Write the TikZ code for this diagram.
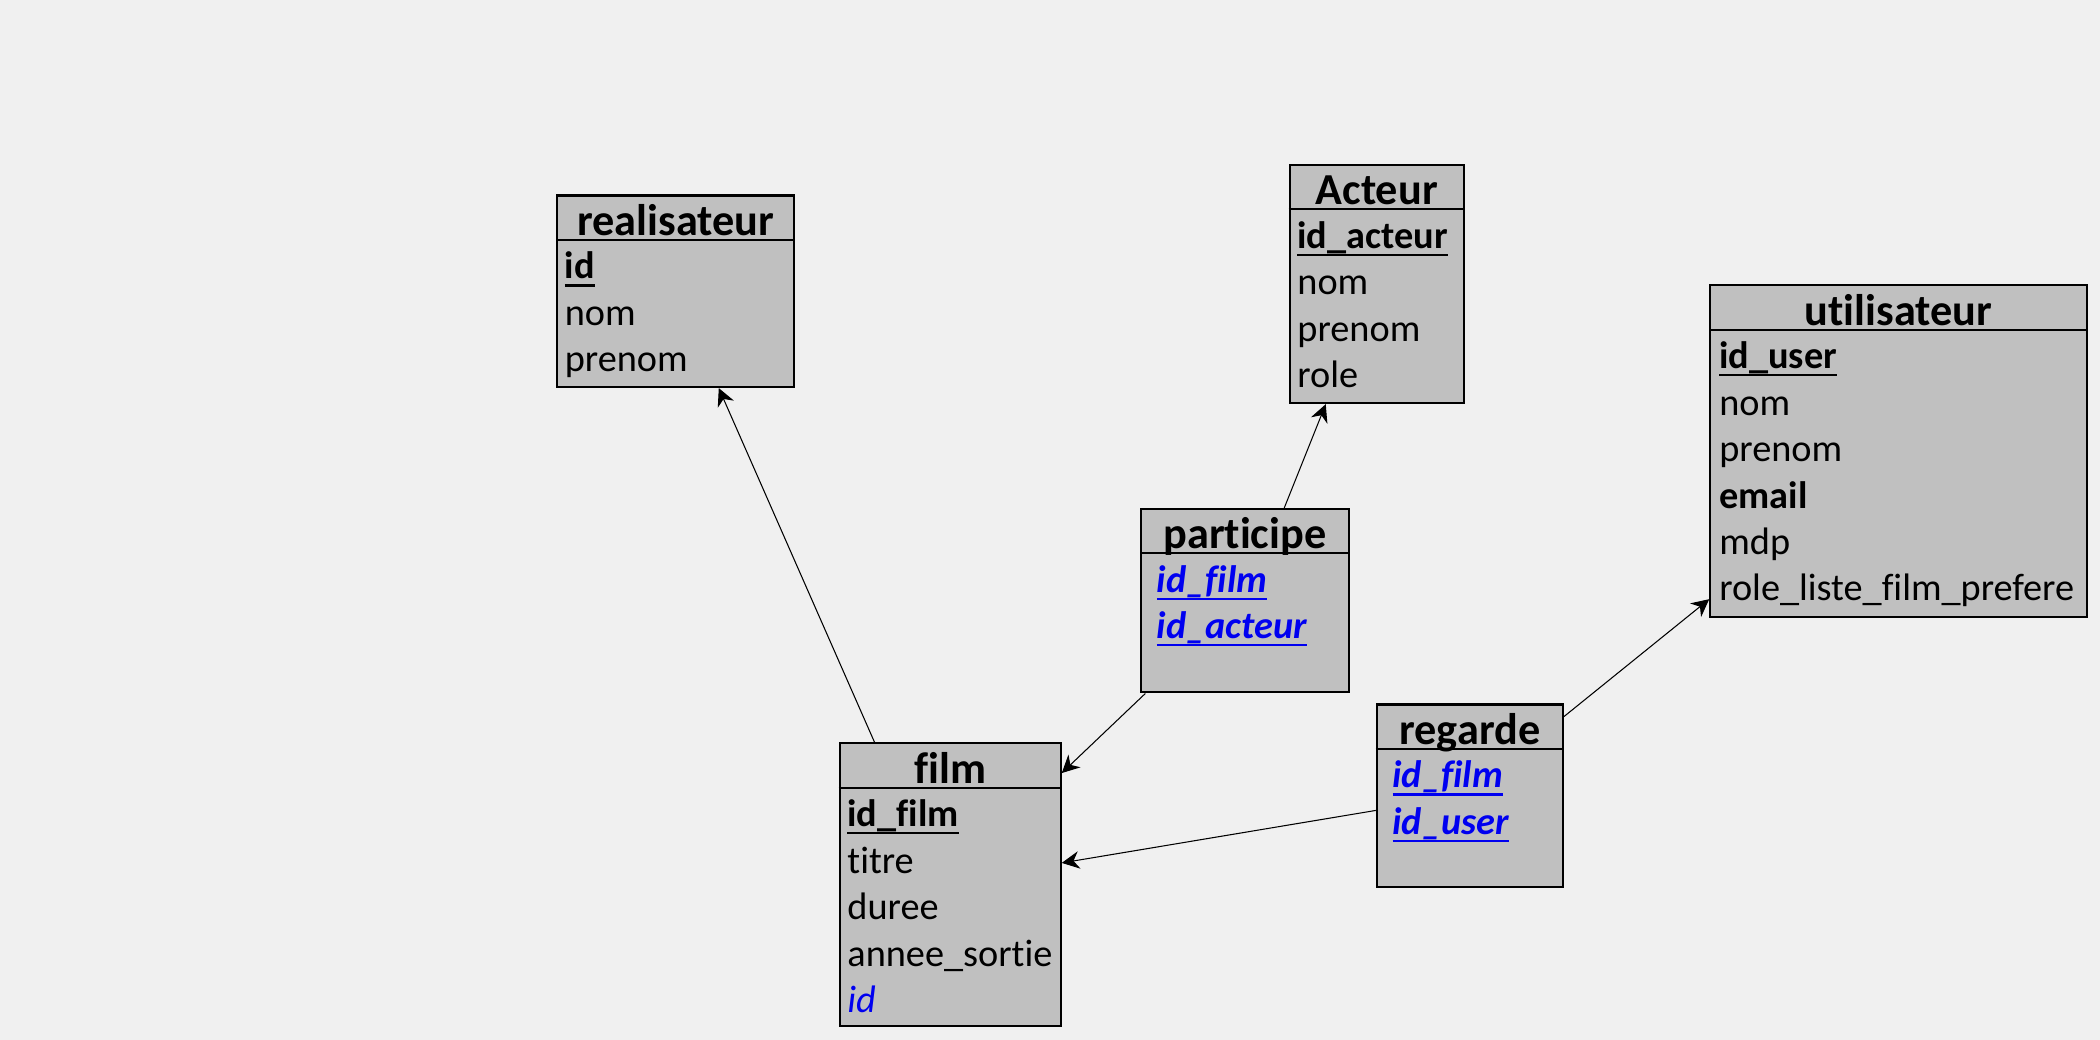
\documentclass[tikz,border=0pt]{standalone}
\usepackage{fontspec}
\setmainfont[Ligatures=NoCommon]{Carlito}
\usetikzlibrary{fit, arrows.meta}

\definecolor{bggray}{HTML}{F0F0F0}
\definecolor{tablegray}{HTML}{C0C0C0}
\definecolor{fkblue}{HTML}{0000F0}

\newcommand{\fieldline}[1]{\setbox0=\hbox{#1}\rlap{\raisebox{-2.2pt}{\rule{\wd0}{0.6pt}}}\box0}
\newcommand{\pk}[1]{\fieldline{\bfseries #1}}
\newcommand{\fk}[1]{\textcolor{fkblue}{\fieldline{\bfseries\itshape #1}}}
\newcommand{\fkref}[1]{\textcolor{fkblue}{\itshape #1}}

\begin{document}
\begin{tikzpicture}[x=0.013393cm, y=-0.013393cm, >={Stealth[length=5pt, width=5pt]},
    every table/.style={draw=black, line width=0.6pt, fill=tablegray, inner sep=0pt},
    table title/.style={font=\fontsize{12.6}{15}\selectfont\bfseries, anchor=base, inner sep=0pt},
    every field/.style={font=\fontsize{10.9}{13}\selectfont, anchor=base west, inner sep=0pt},
    every link/.style={line width=0.3pt}]
        \fill [bggray] (0,0) rectangle (1568,776.5);
        % tables
        \foreach \n/\t/\xa/\ya/\xb/\yb in {realisateur/realisateur/416/146/593/289,
            acteur/Acteur/963/123/1093/301, utilisateur/utilisateur/1277/213/1558/461,
            participe/participe/852/380/1007/517, film/film/627/555/792/766,
            regarde/regarde/1028/526/1167/662}
        {
          \node [every table] (\n) [fit={(\xa,\ya) (\xb,\yb)}] {};
          \draw [line width=0.6pt] ([shift={(0,34)}]\n.north west) -- ([shift={(0,34)}]\n.north east);
          \node [table title] (\n-title) at ([shift={(0,30.5)}]\n.north) {\t};
        }
        % fields
        \foreach \f [count=\y from 0] in {\pk{id}, nom, prenom}
          \node [every field] (realisateur-\y) at ([shift={(6,63+34.7*\y)}]realisateur.north west) {\f};
        \foreach \f [count=\y from 0] in {\pk{id\_acteur}, nom, prenom, role}
          \node [every field] (acteur-\y) at ([shift={(6,63+34.7*\y)}]acteur.north west) {\f};
        \foreach \f [count=\y from 0] in {\pk{id\_user}, nom, prenom, \textbf{email}, mdp, role\_liste\_film\_prefere}
          \node [every field] (utilisateur-\y) at ([shift={(7,63+34.7*\y)}]utilisateur.north west) {\f};
        \foreach \f [count=\y from 0] in {\fk{id\_film}, \fk{id\_acteur}}
          \node [every field] (participe-\y) at ([shift={(12,63+34.7*\y)}]participe.north west) {\f};
        \foreach \f [count=\y from 0] in {\pk{id\_film}, titre, duree, annee\_sortie, \fkref{id}}
          \node [every field] (film-\y) at ([shift={(6,63+34.7*\y)}]film.north west) {\f};
        \foreach \f [count=\y from 0] in {\fk{id\_film}, \fk{id\_user}}
          \node [every field] (regarde-\y) at ([shift={(12,63+34.7*\y)}]regarde.north west) {\f};
        % links
        \draw [every link, ->] (film.118) -- (realisateur.294);
        \draw [every link, ->] (participe.67) -- (acteur.247);
        \draw [every link, ->] (participe.223) -- (film.45);
        \draw [every link, ->] (regarde.189) -- (film.11);
        \draw [every link, ->] (regarde.40) -- (utilisateur.218);
    \end{tikzpicture}
\end{document}
